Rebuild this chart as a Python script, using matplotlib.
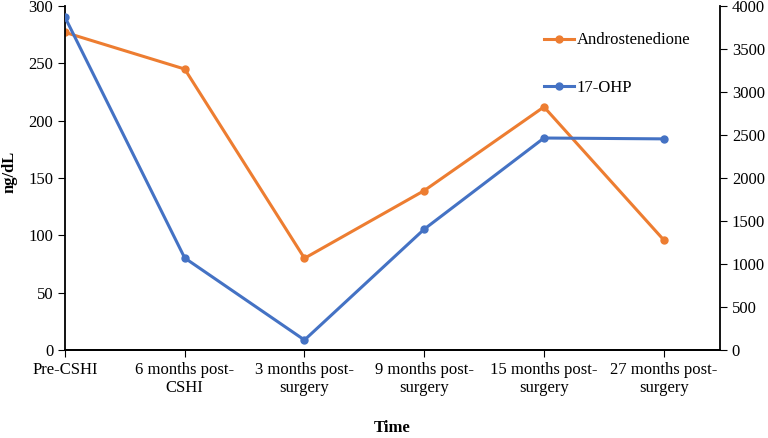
import matplotlib
matplotlib.use('Agg')
import matplotlib.pyplot as plt
import numpy as np

categories = ['Pre-CSHI', '6 months post-\nCSHI', '3 months post-\nsurgery',
              '9 months post-\nsurgery', '15 months post-\nsurgery', '27 months post-\nsurgery']
androstenedione = [277, 245, 80, 139, 212, 96]
ohp17 = [3870, 1070, 116, 1405, 2465, 2455]

plt.rcParams['font.family'] = ['Liberation Serif', 'DejaVu Serif']
orange = '#ED7D31'
blue = '#4472C4'
fs = 12

fig = plt.figure(figsize=(7.68, 4.38), dpi=100)
ax = fig.add_axes([0.0846, 0.2009, 0.8529, 0.7854])
ax2 = ax.twinx()

x = np.arange(len(categories))
l1, = ax.plot(x, androstenedione, color=orange, lw=2.2, marker='o', ms=5, label='Androstenedione')
l2, = ax2.plot(x, ohp17, color=blue, lw=2.2, marker='o', ms=5, label='17-OHP')

ax.set_xlim(0, 5.47)
ax.set_ylim(0, 300)
ax2.set_ylim(0, 4000)
ax.set_yticks(np.arange(0, 301, 50))
ax2.set_yticks(np.arange(0, 4001, 500))
ax.set_xticks(x)
ax.set_xticklabels(categories, fontsize=fs)
ax.tick_params(axis='y', labelsize=fs, direction='out', length=5)
ax.tick_params(axis='x', direction='out', length=5)
ax2.tick_params(axis='y', labelsize=fs, direction='out', length=5)

for a in (ax, ax2):
    a.spines['top'].set_visible(False)
    for s in a.spines.values():
        s.set_linewidth(1.3)
ax.spines['right'].set_visible(False)
ax2.spines['left'].set_visible(False)

# axis titles placed in figure pixels
fig.text(9 / 768, 1 - 172 / 438, 'ng/dL', fontsize=fs, fontweight='bold',
         rotation=90, ha='center', va='center')
fig.text(392 / 768, 1 - 428 / 438, 'Time', fontsize=fs, fontweight='bold',
         ha='center', va='center')

fig.legend([l1, l2], ['Androstenedione', '17-OHP'], loc='upper left',
           bbox_to_anchor=(0.697, 0.945), frameon=False, fontsize=fs,
           borderpad=0, labelspacing=1.9, handlelength=1.85, handletextpad=0.15)

fig.savefig('out.png', dpi=100)
